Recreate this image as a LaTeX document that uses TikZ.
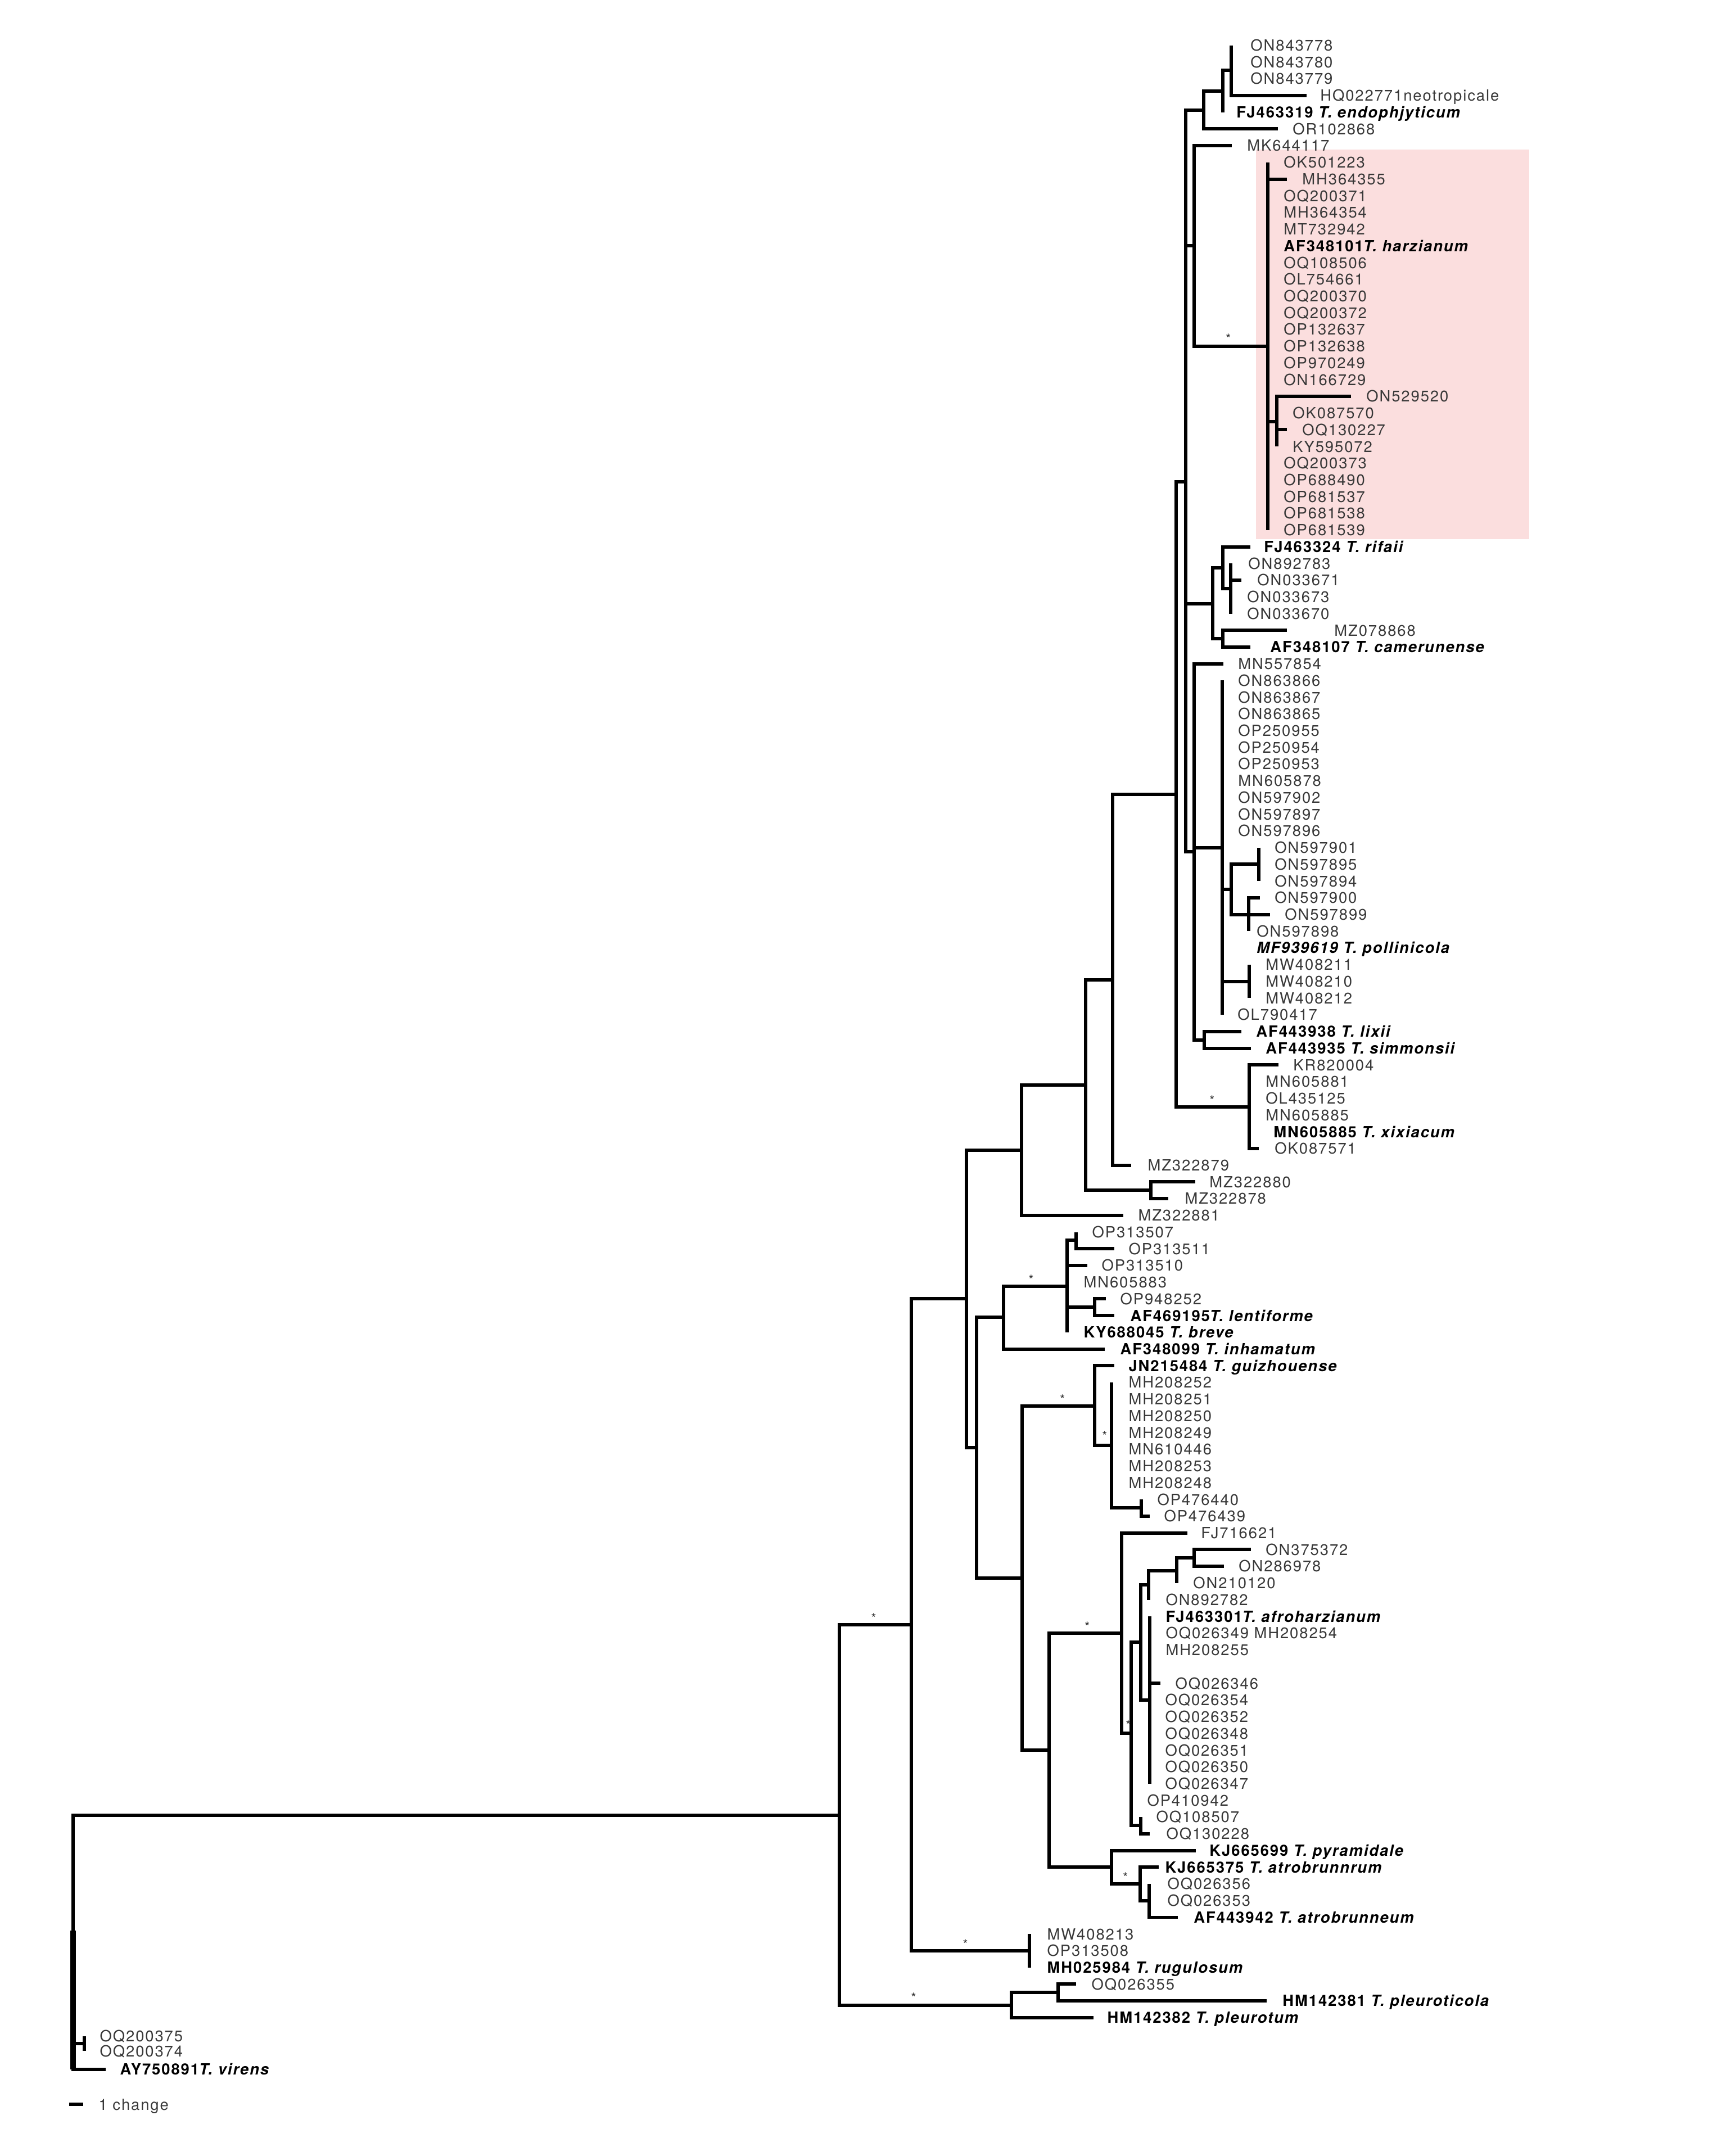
\documentclass[tikz,border=0pt]{standalone}
\usepackage{fontspec}
\newfontfamily\tipfont{TeX Gyre Heros}[LetterSpace=7]

\definecolor{harzpink}{RGB}{251,222,222}

\tikzset{
  branch/.style={line width=1.7pt},
  lab/.style={anchor=west, inner sep=0pt, text height=5.6pt, text depth=0pt,
    font=\tipfont\fontsize{7.8}{8}\selectfont, text=black!78},
  labb/.style={lab, font=\tipfont\bfseries\fontsize{7.8}{8}\selectfont, text=black},
  ast/.style={inner sep=0pt, font=\tipfont\fontsize{6.5}{6.5}\selectfont, text=black!80},
}

\begin{document}
\begin{tikzpicture}[x=0.01cm, y=-0.2973cm]

% Canvas
\fill[white] (0,-2.714) rectangle (3071,126.28);
\useasboundingbox (0,-2.714) rectangle (3071,126.28);

% Highlight of the T. harzianum clade
\fill[harzpink] (2235,6.23) rectangle (2722,29.54);

% Define internal nodes
\coordinate (root) at (130,113.5);
\coordinate (rootlow) at (130,112.8);
\coordinate (VP) at (150,119.55);
\coordinate (M) at (1494,105.9);
\coordinate (K) at (1622,94.5);
\coordinate (J) at (1720,75.0);
\coordinate (I) at (1818,66.1);
\coordinate (H) at (1932,62.2);
\coordinate (G) at (1980,55.9);
\coordinate (F) at (2093,44.8);
\coordinate (D) at (2110,26.1);
\coordinate (C) at (2142,3.875);
\coordinate (B) at (2176,2.75);
\coordinate (A) at (2191,1.5);
\coordinate (HZ0) at (2125,12.0);
\coordinate (HZ) at (2256,18.0);
\coordinate (HZ2) at (2272,22.5);
\coordinate (RF0) at (2158,33.4);
\coordinate (RF1) at (2176,31.25);
\coordinate (RF2) at (2190,32.5);
\coordinate (RF3) at (2176,35.5);
\coordinate (E) at (2125,48.25);
\coordinate (E1) at (2175,48.0);
\coordinate (E2) at (2191,50.5);
\coordinate (E3) at (2240,49.0);
\coordinate (E4) at (2222,52.0);
\coordinate (MW) at (2223,56.0);
\coordinate (LX) at (2143,59.5);
\coordinate (XX) at (2223,63.5);
\coordinate (MZ) at (2048,68.5);
\coordinate (L) at (1738,83.9);
\coordinate (N) at (1786,76.1);
\coordinate (O) at (1899,74.25);
\coordinate (OS) at (1915,71.5);
\coordinate (OL) at (1948,75.5);
\coordinate (P) at (1819,91.7);
\coordinate (Q) at (1948,81.4);
\coordinate (Q2) at (1978,83.75);
\coordinate (Q3) at (2031,87.5);
\coordinate (R) at (1867,102.0);
\coordinate (S) at (1996,95.0);
\coordinate (T) at (2013,101.0);
\coordinate (U) at (2030,95.55);
\coordinate (V) at (2044,92.1);
\coordinate (W) at (2094,91.25);
\coordinate (X) at (2125,90.5);
\coordinate (Y) at (2046,99.0);
\coordinate (Z) at (2030,106.5);
\coordinate (AA) at (1978,109.0);
\coordinate (AB) at (2029,110.0);
\coordinate (AC) at (2045,111.0);
\coordinate (RG) at (1832,114.0);
\coordinate (BB) at (1800,117.25);
\coordinate (CC) at (1883,116.5);

% Define branch tips
\coordinate (tHQ022771) at (2325,3);
\coordinate (tOR102868) at (2274,5);
\coordinate (tMK644117) at (2192,6);
\coordinate (tMH364355) at (2290,8);
\coordinate (tON529520) at (2404,21);
\coordinate (tOQ130227) at (2290,23);
\coordinate (tFJ463324) at (2225,30);
\coordinate (tON033671) at (2209,32);
\coordinate (tMZ078868) at (2290,35);
\coordinate (tAF348107) at (2225,36);
\coordinate (tMN557854) at (2177,37);
\coordinate (tON597900) at (2242,51);
\coordinate (tON597899) at (2260,52);
\coordinate (tAF443938) at (2209,59);
\coordinate (tAF443935) at (2226,60);
\coordinate (tKR820004) at (2275,61);
\coordinate (tOK087571) at (2240,66);
\coordinate (tMZ322879) at (2013,67);
\coordinate (tMZ322880) at (2127,68);
\coordinate (tMZ322878) at (2079,69);
\coordinate (tMZ322881) at (1999,70);
\coordinate (tOP313511) at (1983,72);
\coordinate (tOP313510) at (1935,73);
\coordinate (tOP948252) at (1968,75);
\coordinate (tAF469195) at (1983,76);
\coordinate (tAF348099) at (1966,78);
\coordinate (tJN215484) at (1983,79);
\coordinate (tOP476439) at (2046,88);
\coordinate (tFJ716621) at (2113,89);
\coordinate (tON375372) at (2226,90);
\coordinate (tON286978) at (2178,91);
\coordinate (tOQ026346) at (2065,98);
\coordinate (tOQ130228) at (2046,107);
\coordinate (tKJ665699) at (2128,108);
\coordinate (tKJ665375) at (2062,109);
\coordinate (tAF443942) at (2096,112);
\coordinate (tOQ026355) at (1915,116);
\coordinate (tHM142381) at (2254,117);
\coordinate (tHM142382) at (1946,118);
\coordinate (tAY750891) at (188,121.1);

% Tip labels
\foreach \acc [count=\r from 0] in {ON843778,ON843780,ON843779}
  \node[lab] (\acc) at (2225,\r) {\acc};
\node[lab] (HQ022771) at (2349,3) {HQ022771neotropicale};
\node[labb] (FJ463319) at (2200,4) {FJ463319 \textit{T. endophjyticum}};
\node[lab] (OR102868) at (2300,5) {OR102868};
\node[lab] (MK644117) at (2219,6) {MK644117};
\node[lab] (OK501223) at (2284,7) {OK501223};
\node[lab] (MH364355) at (2317,8) {MH364355};
\foreach \acc [count=\r from 9] in {OQ200371,MH364354,MT732942}
  \node[lab] (\acc) at (2284,\r) {\acc};
\node[labb] (AF348101) at (2284,12) {AF348101\textit{T. harzianum}};
\foreach \acc [count=\r from 13] in {OQ108506,OL754661,OQ200370,OQ200372,OP132637,OP132638,OP970249,ON166729}
  \node[lab] (\acc) at (2284,\r) {\acc};
\node[lab] (ON529520) at (2431,21) {ON529520};
\node[lab] (OK087570) at (2300,22) {OK087570};
\node[lab] (OQ130227) at (2317,23) {OQ130227};
\node[lab] (KY595072) at (2300,24) {KY595072};
\foreach \acc [count=\r from 25] in {OQ200373,OP688490,OP681537,OP681538,OP681539}
  \node[lab] (\acc) at (2284,\r) {\acc};
\node[labb] (FJ463324) at (2249,30) {FJ463324 \textit{T. rifaii}};
\node[lab] (ON892783) at (2221,31) {ON892783};
\node[lab] (ON033671) at (2237,32) {ON033671};
\node[lab] (ON033673) at (2219,33) {ON033673};
\node[lab] (ON033670) at (2219,34) {ON033670};
\node[lab] (MZ078868) at (2374,35) {MZ078868};
\node[labb] (AF348107) at (2260,36) {AF348107 \textit{T. camerunense}};
\foreach \acc [count=\r from 37] in {MN557854,ON863866,ON863867,ON863865,OP250955,OP250954,OP250953,MN605878,ON597902,ON597897,ON597896}
  \node[lab] (\acc) at (2203,\r) {\acc};
\foreach \acc [count=\r from 48] in {ON597901,ON597895,ON597894,ON597900}
  \node[lab] (\acc) at (2268,\r) {\acc};
\node[lab] (ON597899) at (2286,52) {ON597899};
\node[lab] (ON597898) at (2236,53) {ON597898};
\node[labb] (MF939619) at (2236,54) {\textit{MF939619 T. pollinicola}};
\foreach \acc [count=\r from 55] in {MW408211,MW408210,MW408212}
  \node[lab] (\acc) at (2252,\r) {\acc};
\node[lab] (OL790417) at (2202,58) {OL790417};
\node[labb] (AF443938) at (2235,59) {AF443938 \textit{T. lixii}};
\node[labb] (AF443935) at (2252,60) {AF443935 \textit{T. simmonsii}};
\node[lab] (KR820004) at (2301,61) {KR820004};
\foreach \acc [count=\r from 62] in {MN605881,OL435125,MN605885}
  \node[lab] (\acc) at (2252,\r) {\acc};
\node[labb] (MN605885x) at (2266,65) {MN605885 \textit{T. xixiacum}};
\node[lab] (OK087571) at (2268,66) {OK087571};
\node[lab] (MZ322879) at (2042,67) {MZ322879};
\node[lab] (MZ322880) at (2152,68) {MZ322880};
\node[lab] (MZ322878) at (2108,69) {MZ322878};
\node[lab] (MZ322881) at (2025,70) {MZ322881};
\node[lab] (OP313507) at (1943,71) {OP313507};
\node[lab] (OP313511) at (2008,72) {OP313511};
\node[lab] (OP313510) at (1960,73) {OP313510};
\node[lab] (MN605883) at (1928,74) {MN605883};
\node[lab] (OP948252) at (1993,75) {OP948252};
\node[labb] (AF469195) at (2011,76) {AF469195\textit{T. lentiforme}};
\node[labb] (KY688045) at (1928,77) {KY688045 \textit{T. breve}};
\node[labb] (AF348099) at (1993,78) {AF348099 \textit{T. inhamatum}};
\node[labb] (JN215484) at (2008,79) {JN215484 \textit{T. guizhouense}};
\foreach \acc [count=\r from 80] in {MH208252,MH208251,MH208250,MH208249,MN610446,MH208253,MH208248}
  \node[lab] (\acc) at (2008,\r) {\acc};
\node[lab] (OP476440) at (2059,87) {OP476440};
\node[lab] (OP476439) at (2071,88) {OP476439};
\node[lab] (FJ716621) at (2137,89) {FJ716621};
\node[lab] (ON375372) at (2252,90) {ON375372};
\node[lab] (ON286978) at (2204,91) {ON286978};
\node[lab] (ON210120) at (2123,92) {ON210120};
\node[lab] (ON892782) at (2074,93) {ON892782};
\node[labb] (FJ463301) at (2074,94) {FJ463301\textit{T. afroharzianum}};
\node[lab] (OQ026349) at (2074,95) {OQ026349 MH208254};
\node[lab] (MH208255) at (2074,96) {MH208255};
\node[lab] (OQ026346) at (2091,98) {OQ026346};
\foreach \acc [count=\r from 99] in {OQ026354,OQ026352,OQ026348,OQ026351,OQ026350,OQ026347}
  \node[lab] (\acc) at (2073,\r) {\acc};
\node[lab] (OP410942) at (2041,105) {OP410942};
\node[lab] (OQ108507) at (2057,106) {OQ108507};
\node[lab] (OQ130228) at (2075,107) {OQ130228};
\node[labb] (KJ665699) at (2152,108) {KJ665699 \textit{T. pyramidale}};
\node[labb] (KJ665375) at (2073,109) {KJ665375 \textit{T. atrobrunnrum}};
\node[lab] (OQ026356) at (2077,110) {OQ026356};
\node[lab] (OQ026353) at (2077,111) {OQ026353};
\node[labb] (AF443942) at (2124,112) {AF443942 \textit{T. atrobrunneum}};
\node[lab] (MW408213) at (1863,113) {MW408213};
\node[lab] (OP313508) at (1863,114) {OP313508};
\node[labb] (MH025984) at (1863,115) {MH025984 \textit{T. rugulosum}};
\node[lab] (OQ026355) at (1942,116) {OQ026355};
\node[labb] (HM142381) at (2282,117) {HM142381 \textit{T. pleuroticola}};
\node[labb] (HM142382) at (1970,118) {HM142382 \textit{T. pleurotum}};
\node[lab] (OQ200375) at (177,119.1) {OQ200375};
\node[lab] (OQ200374) at (177,120.0) {OQ200374};
\node[labb] (AY750891) at (213,121.1) {AY750891\textit{T. virens}};

% Branches: upper clades
\draw[branch] (A |- ON843778) |- (tHQ022771);
\draw[branch] (A) -| (B) |- (B |- FJ463319);
\draw[branch] (B) -| (C) |- (tOR102868);
\draw[branch] (C) -| (D) |- (E);
\draw[branch] (D) |- (HZ0);
\draw[branch] (D) |- (RF0);
\draw[branch] (tMK644117) -| (HZ0) |- (HZ);
\draw[branch] (HZ |- OK501223) -- (HZ |- OP681539);
\draw[branch] (HZ) |- (tMH364355);
\draw[branch] (HZ) |- (HZ2);
\draw[branch] (tON529520) -| (HZ2) |- (HZ2 |- KY595072);
\draw[branch] (HZ2) |- (tOQ130227);
\draw[branch] (RF1) -| (RF0) |- (RF3);
\draw[branch] (tFJ463324) -| (RF1) |- (RF2);
\draw[branch] (RF2 |- ON892783) -- (RF2 |- ON033670);
\draw[branch] (RF2) |- (tON033671);
\draw[branch] (tMZ078868) -| (RF3) |- (tAF348107);
\draw[branch] (tMN557854) -| (E) |- (LX);
\draw[branch] (E) |- (E1);
\draw[branch] (E1 |- ON863866) -- (E1 |- OL790417);
\draw[branch] (E1) |- (E2);
\draw[branch] (E1) |- (MW);
\draw[branch] (E3) -| (E2) |- (E4);
\draw[branch] (E3 |- ON597901) -- (E3 |- ON597894);
\draw[branch] (tON597900) -| (E4) |- (E4 |- ON597898);
\draw[branch] (E4) |- (tON597899);
\draw[branch] (MW |- MW408211) -- (MW |- MW408212);
\draw[branch] (tAF443938) -| (LX) |- (tAF443935);
\draw[branch] (D) -| (F) |- (XX);
\draw[branch] (tKR820004) -| (XX) |- (tOK087571);
\draw[branch] (F) -| (G) |- (tMZ322879);
\draw[branch] (G) -| (H) |- (MZ);
\draw[branch] (tMZ322880) -| (MZ) |- (tMZ322878);
\draw[branch] (H) -| (I) |- (tMZ322881);
\draw[branch] (I) -| (J) |- (L);

% Branches: middle clades
\draw[branch] (N) -| (L) |- (P);
\draw[branch] (O) -| (N) |- (tAF348099);
\draw[branch] (OS) -| (O) |- (O |- KY688045);
\draw[branch] (O) |- (tOP313510);
\draw[branch] (O) |- (OL);
\draw[branch] (OS |- OP313507) |- (tOP313511);
\draw[branch] (tOP948252) -| (OL) |- (tAF469195);
\draw[branch] (Q) -| (P) |- (R);
\draw[branch] (tJN215484) -| (Q) |- (Q2);
\draw[branch] (Q2 |- MH208252) |- (Q3);
\draw[branch] (Q3 |- OP476440) |- (tOP476439);
\draw[branch] (S) -| (R) |- (AA);
\draw[branch] (tFJ716621) -| (S) |- (T);
\draw[branch] (U) -| (T) |- (Z);
\draw[branch] (V) -| (U) |- (Y);
\draw[branch] (W) -| (V) |- (V |- ON892782);
\draw[branch] (X) -| (W) |- (W |- ON210120);
\draw[branch] (tON375372) -| (X) |- (tON286978);
\draw[branch] (Y |- FJ463301) -- (Y |- OQ026347);
\draw[branch] (Y) |- (tOQ026346);
\draw[branch] (Z |- OQ108507) |- (tOQ130228);
\draw[branch] (tKJ665699) -| (AA) |- (AB);
\draw[branch] (tKJ665375) -| (AB) |- (AC);
\draw[branch] (AC |- OQ026356) |- (tAF443942);

% Branches: lower clades and root
\draw[branch] (J) -| (K) |- (RG);
\draw[branch] (RG |- MW408213) -- (RG |- MH025984);
\draw[branch] (K) -| (M) |- (BB);
\draw[branch] (CC) -| (BB) |- (tHM142382);
\draw[branch] (tOQ026355) -| (CC) |- (tHM142381);
\draw[branch] (M) -| (root) |- (tAY750891);
\draw[branch] (root) |- (VP);
\draw[branch] (VP |- OQ200375) -- (VP |- OQ200374);
\draw[branch, line width=3pt] (rootlow) -- (root |- tAY750891);

% Support marks
\node[ast] (sHZ) at (2186,17.55) {*};
\node[ast] (sXX) at (2157,63.1) {*};
\node[ast] (sO) at (1835,73.85) {*};
\node[ast] (sQ) at (1891,81.0) {*};
\node[ast] (sQ2) at (1966,83.2) {*};
\node[ast] (sS) at (1935,94.6) {*};
\node[ast] (sT) at (2008,100.5) {*};
\node[ast] (sAB) at (2003,109.6) {*};
\node[ast] (sRG) at (1718,113.6) {*};
\node[ast] (sBB) at (1626,116.8) {*};
\node[ast] (sK) at (1555,94.1) {*};

% Scale bar
\coordinate (bar1) at (123,123.2);
\coordinate (bar2) at (148,123.2);
\draw[branch] (bar1) -- (bar2);
\node[lab] (scale) at (175,123.2) {1 change};

\end{tikzpicture}
\end{document}
